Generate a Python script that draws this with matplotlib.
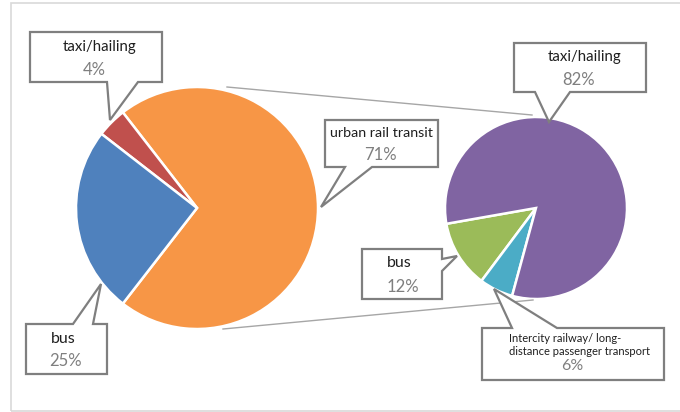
import matplotlib
matplotlib.use("Agg")
import matplotlib.pyplot as plt
from matplotlib.patches import Polygon, Rectangle
import numpy as np

plt.rcParams['font.family'] = ['Lato', 'DejaVu Sans']

# ---- data ----
left_labels = ["urban rail transit", "taxi/hailing", "bus"]
left_values = [71, 4, 25]
left_colors = ["#F79646", "#C0504D", "#4F81BD"]

right_labels = ["bus", "Intercity railway/ long-\ndistance passenger transport", "taxi/hailing"]
right_values = [12, 6, 82]
right_colors = ["#9BBB59", "#4BACC6", "#8064A2"]

W, H = 680, 412
fig = plt.figure(figsize=(W / 100, H / 100), dpi=100)
ax = fig.add_axes([0, 0, 1, 1])
ax.set_xlim(0, W)
ax.set_ylim(0, H)
ax.set_aspect('equal')
ax.axis('off')


def Y(y):
    return H - y


# outer frame
ax.add_patch(Rectangle((11, Y(411)), 700, 408, fill=False, ec="#D9D9D9", lw=1.2, zorder=0))

# pies
lc, lr = (197, Y(208)), 121
rc, rr = (536, Y(208)), 91
left_start = -left_values[0] / sum(left_values) * 180
ax.pie(left_values, colors=left_colors, startangle=left_start, center=lc, radius=lr,
       wedgeprops=dict(edgecolor="white", linewidth=1.8), frame=True)
ax.pie(right_values, colors=right_colors, startangle=190, center=rc, radius=rr,
       wedgeprops=dict(edgecolor="white", linewidth=1.8), frame=True)
ax.set_xlim(0, W)
ax.set_ylim(0, H)
ax.axis('off')

# connector lines
ax.plot([227, 532], [Y(87), Y(115)], color="#A6A6A6", lw=1.0, zorder=1)
ax.plot([223, 533], [Y(329), Y(300)], color="#A6A6A6", lw=1.0, zorder=1)


def callout(pts):
    poly = Polygon([(x, Y(y)) for x, y in pts], closed=True, fc="white",
                   ec="#7F7F7F", lw=1.6, zorder=5, joinstyle='miter')
    ax.add_patch(poly)


LBL = "#1F1F1F"
PCT = "#7F7F7F"
LS = 10.8
PS = 12

# left taxi/hailing (pointer from bottom)
callout([(30, 32), (162, 32), (162, 82), (138, 82), (110, 120), (107, 82), (30, 82)])
ax.text(100, Y(47), left_labels[1], ha='center', va='center', fontsize=LS, color=LBL, zorder=6)
ax.text(94, Y(70), f"{left_values[1]}%", ha='center', va='center', fontsize=PS, color=PCT, zorder=6)

# urban rail transit (pointer from bottom-left)
callout([(325, 120), (438, 120), (438, 167), (372, 167), (321, 207), (345, 167), (325, 167)])
ax.text(381, Y(133), left_labels[0], ha='center', va='center', fontsize=10.3, color=LBL, zorder=6)
ax.text(380, Y(155), f"{left_values[0]}%", ha='center', va='center', fontsize=PS, color=PCT, zorder=6)

# left bus (pointer from top)
callout([(26, 324), (73, 324), (101, 284), (93, 324), (107, 324), (107, 374), (26, 374)])
ax.text(63, Y(339), left_labels[2], ha='center', va='center', fontsize=11.5, color=LBL, zorder=6)
ax.text(66, Y(361), f"{left_values[2]}%", ha='center', va='center', fontsize=PS, color=PCT, zorder=6)

# right taxi/hailing (pointer from bottom)
callout([(514, 43), (646, 43), (646, 92), (570, 92), (549, 122), (535, 92), (514, 92)])
ax.text(585, Y(57), right_labels[2], ha='center', va='center', fontsize=LS, color=LBL, zorder=6)
ax.text(579, Y(80), f"{right_values[2]}%", ha='center', va='center', fontsize=PS, color=PCT, zorder=6)

# right bus (pointer from right side)
callout([(362, 249), (442, 249), (442, 259), (457, 256), (442, 271), (442, 299), (362, 299)])
ax.text(399, Y(263), right_labels[0], ha='center', va='center', fontsize=11.5, color=LBL, zorder=6)
ax.text(403, Y(287), f"{right_values[0]}%", ha='center', va='center', fontsize=PS, color=PCT, zorder=6)

# intercity (pointer from top)
callout([(482, 328), (512, 328), (494, 289), (557, 328), (664, 328), (664, 380), (482, 380)])
ax.text(509, Y(345), right_labels[1], ha='left', va='center', fontsize=8.0, color=LBL,
        zorder=6, linespacing=1.2)
ax.text(572, Y(366), f"{right_values[1]}%", ha='center', va='center', fontsize=11.5, color=PCT, zorder=6)

fig.savefig("out.png", dpi=100)
